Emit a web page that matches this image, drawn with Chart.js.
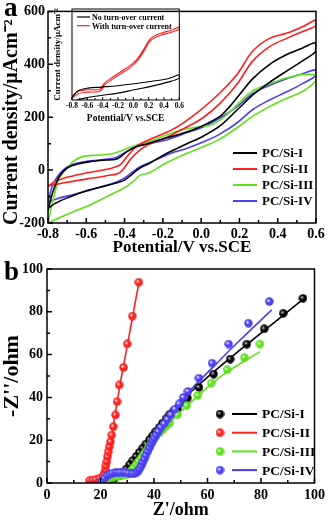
<!DOCTYPE html>
<html>
<head>
<meta charset="utf-8">
<script src="https://cdn.jsdelivr.net/npm/chart.js@4.4.1/dist/chart.umd.min.js"></script>
<style>
  html, body { margin: 0; padding: 0; background: #fff; }
  #wrap { position: relative; width: 329px; height: 521px; overflow: hidden; }
  .box { position: absolute; }
  .tag { position: absolute; font: bold 27px "Liberation Serif", serif; line-height: 1; }
</style>
</head>
<body>
<div id="wrap">
  <div class="box" style="left:0;top:0;width:329px;height:258px"><canvas id="cvA"></canvas></div>
  <div class="box" style="left:0;top:255px;width:329px;height:266px"><canvas id="cvB"></canvas></div>
  <div class="box" style="left:52px;top:0;width:134px;height:124px"><canvas id="cvIn"></canvas></div>
  <div class="tag" style="left:4px;top:-6px">a</div>
  <div class="tag" style="left:4px;top:258px">b</div>
</div>
<script>
const F = '"Liberation Serif", "Times New Roman", serif';

const names = ['PC/Si-I', 'PC/Si-II', 'PC/Si-III', 'PC/Si-IV'];
const colors = ['#000000', '#ff1f1f', '#5ee11e', '#4c3ff2'];

// ---- panel a: CV loops (V vs SCE, uA/cm2), forward scan then return ----
const cvX1 = [-0.8,-0.78,-0.76,-0.74,-0.7,-0.65,-0.58,-0.5,-0.45,-0.42,-0.39,-0.34,-0.28,-0.18,-0.1,0.0,0.1,0.15,0.2,0.27,0.36,0.45,0.53,0.6,
              0.6,0.53,0.45,0.36,0.27,0.19,0.1,0.0,-0.08,-0.16,-0.2,-0.27,-0.32,-0.36,-0.4,-0.45,-0.5,-0.6,-0.7,-0.76,-0.8];
const cvY1 = [-155,-95,-54,-23,8,22,32,38,40,51,69,88,100,122,138,165,204,241,285,346,401,438,462,481,
              450,413,376,333,284,229,168,124,98,70,55,26,8,-15,-38,-50,-60,-78,-105,-125,-145];

const cvX2 = [-0.8,-0.755,-0.67,-0.58,-0.49,-0.45,-0.42,-0.38,-0.34,-0.28,-0.18,-0.11,-0.02,0.06,0.13,0.19,0.27,0.36,0.45,0.53,0.6,
              0.6,0.53,0.45,0.36,0.27,0.19,0.1,0.01,-0.08,-0.16,-0.2,-0.28,-0.33,-0.37,-0.4,-0.43,-0.5,-0.6,-0.7,-0.8];
const cvY2 = [-60,-40,-22,-8,3,12,22,57,88,112,143,170,217,266,315,364,450,499,518,542,567,
              546,524,499,468,413,327,253,198,161,131,118,95,70,40,10,-12,-22,-34,-46,-60];

const cvX3 = [-0.8,-0.77,-0.74,-0.7,-0.67,-0.62,-0.53,-0.46,-0.41,-0.34,-0.27,-0.2,-0.1,0.0,0.05,0.1,0.15,0.2,0.27,0.36,0.45,0.53,0.6,
              0.6,0.53,0.45,0.36,0.27,0.19,0.1,0.01,-0.1,-0.2,-0.27,-0.32,-0.35,-0.39,-0.45,-0.5,-0.58,-0.67,-0.75,-0.8];
const cvY3 = [-200,-103,-29,8,32,51,57,63,75,94,108,128,152,165,170,190,220,255,300,327,349,361,358,
              339,297,272,241,204,161,118,88,55,20,-10,-20,-40,-62,-85,-103,-132,-158,-183,-200];

const cvX4 = [-0.8,-0.78,-0.755,-0.72,-0.67,-0.58,-0.5,-0.45,-0.39,-0.34,-0.27,-0.18,-0.1,0.0,0.1,0.19,0.27,0.36,0.45,0.53,0.6,
              0.6,0.53,0.45,0.36,0.27,0.19,0.1,0.01,-0.08,-0.16,-0.2,-0.27,-0.32,-0.36,-0.4,-0.45,-0.5,-0.6,-0.7,-0.76,-0.8];
const cvY4 = [-121,-66,-29,1,22,35,41,47,69,88,100,114,135,160,198,241,290,321,346,364,379,
              358,327,297,266,229,180,137,106,81,63,50,28,12,-8,-30,-48,-58,-80,-98,-110,-121];

// ---- inset: with / without turn-over current ----
const inNames = ['No turn-over current', 'With turn-over current'];
const inX_no = [-0.8,-0.72,-0.59,-0.42,-0.2,0.01,0.23,0.45,0.6, 0.6,0.45,0.23,0.01,-0.2,-0.42,-0.63,-0.8];
const inY_no = [-62,-3,21,30,42,60,80,104,140, 110,74,36,6,-24,-45,-68,-98];
const inX_with = [-0.8,-0.72,-0.59,-0.46,-0.42,-0.375,-0.29,-0.16,-0.03,0.06,0.145,0.23,0.36,0.49,0.6,
                  0.6,0.49,0.36,0.23,0.145,0.06,-0.03,-0.16,-0.29,-0.375,-0.42,-0.46,-0.59,-0.72,-0.8];
const inY_with = [-53,-8,6,6,21,66,110,169,228,288,377,466,510,534,564,
                  546,516,492,448,359,270,210,151,92,48,3,-12,-15,-30,-70];

// ---- panel b: Nyquist, measured points (Z', -Z'') ----
const zr1 = [20.4,22.2,23.5,25.3,26.8,28.4,29.6,30.9,32.1,33.3,34.5,35.8,37,38.3,39.5,40.7,42,43.2,44.5,45.7,47.2,48.8,50.6,52.5,56.8,62.3,68.5,74.7,81.2,88.3,95.7];
const zi1 = [0.3,1.1,1.6,2.3,3.3,4.7,6.5,8.6,10.5,12.4,14.3,16.3,18.2,20.2,22.1,24.1,26,28,30,31.9,33.5,35,37.4,39.7,44.6,50.9,57.9,64.9,72,79.3,86.3];
const zr2 = [15.9,17.1,18.3,19.6,20.8,21.4,21.8,22,22.4,22.6,22.9,23.3,23.7,24.2,24.8,25.6,26.2,27,28.6,30,31.9,34.3];
const zi2 = [1.1,1.4,1.7,2.2,3,4.5,6.1,8,10,12.3,14.6,17,19.3,22.4,26.3,31.8,38,45.8,54,65,78,93.8];
const zr3 = [20.4,21.6,23,24.7,26.5,28.4,30,31.5,32.4,33.3,34.2,35.2,36.1,37,37.9,38.9,39.8,40.7,42,43.2,44.5,45.9,48.8,52.2,56.4,61.4,67.3,73.8,79.6];
const zi3 = [0.3,1.4,2,2.6,3.1,3.5,4.2,5.8,7.2,8.6,10.1,11.7,13.2,14.8,16.7,18.7,20.2,21.8,23.4,24.9,26.5,28,31.9,36.2,40.9,46.7,52.9,58.6,64.9];
const zr4 = [20.4,21.6,22.5,23.5,24.5,25.5,26.5,27.5,28.5,29.5,30.5,31.5,32.5,33.3,34,34.6,35.2,35.8,36.4,37,37.7,38.3,38.9,39.5,40.1,40.8,41.6,42.6,43.8,45,46.3,47.8,49.4,51,52.7,56.8,61.7,67.9,75.3,83.1];
const zi4 = [0.8,2.3,3.5,4.2,4.6,4.8,4.9,4.9,4.9,4.8,4.6,4.4,4.3,4.7,5.5,6.5,8,9.6,11.2,13,14.8,16.5,18.2,19.7,21,22.5,24.1,26,27.7,29.8,31.9,34.5,37,40,42.8,49,56,64.9,74.7,84.8];

// ---- panel b: fitted curves ----
const fr1 = [21,25.9,29.6,34.6,42,50,56.8,69.1,81.5,95.3];
const fi1 = [0,2.3,6.2,14,25.7,38,45.9,59,71.5,85.5];
const fr2 = [20.3,21.2,22,23,24,27.3,30.2,34.4];
const fi2 = [0,3,7,14,21,46,65.5,94];
const fr3 = [21,25.9,30.9,35.8,40.7,48.1,56.8,66.7,79.6];
const fi3 = [0,2,5.4,13.2,21,31.1,41.2,51.3,61.4];
const fr4 = [20.4,22.2,24.7,29.6,33.3,35.8,38.3,42,46.9,53.1,61.7,71.6,84];
const fi4 = [0,3.9,5.4,5.4,5.4,8.6,15.6,24.1,33.4,42.8,53.7,66.1,80.9];

const pts = (xs, ys) => xs.map((x, i) => ({ x: x, y: ys[i] }));

function sphere(color) {
  const c = document.createElement('canvas');
  c.width = c.height = 9;
  const g = c.getContext('2d');
  const grad = g.createRadialGradient(3.2, 3.2, 0.2, 4.5, 4.5, 4.3);
  grad.addColorStop(0, color === '#000000' ? '#d8d8d8' : '#ffffff');
  grad.addColorStop(0.45, color);
  grad.addColorStop(1, color);
  g.fillStyle = grad;
  g.beginPath();
  g.arc(4.5, 4.5, 4.2, 0, Math.PI * 2);
  g.fill();
  return c;
}
const dots = colors.map(sphere);

// box frame + inward ticks (major at labels, minor halfway)
const frameTicks = {
  id: 'frameTicks',
  afterDatasetsDraw(chart, args, o) {
    const ctx = chart.ctx, a = chart.chartArea;
    const xs = chart.scales.x, ys = chart.scales.y;
    ctx.save();
    ctx.strokeStyle = '#000';
    ctx.lineWidth = o.width;
    ctx.strokeRect(a.left, a.top, a.right - a.left, a.bottom - a.top);
    ctx.beginPath();
    const xp = xs.ticks.map(t => xs.getPixelForValue(t.value));
    const yp = ys.ticks.map(t => ys.getPixelForValue(t.value));
    xp.forEach((p, i) => {
      ctx.moveTo(p, a.bottom); ctx.lineTo(p, a.bottom - o.major);
      if (i < xp.length - 1) {
        const m = (p + xp[i + 1]) / 2;
        ctx.moveTo(m, a.bottom); ctx.lineTo(m, a.bottom - o.minor);
      }
    });
    yp.forEach((p, i) => {
      ctx.moveTo(a.left, p); ctx.lineTo(a.left + o.major, p);
      if (i < yp.length - 1) {
        const m = (p + yp[i + 1]) / 2;
        ctx.moveTo(a.left, m); ctx.lineTo(a.left + o.minor, m);
      }
    });
    ctx.stroke();
    ctx.restore();
  }
};

function makeKey(k) {
  return {
    id: 'key',
    afterDraw(chart) {
      const ctx = chart.ctx;
      ctx.save();
      ctx.font = 'bold ' + k.size + 'px ' + F;
      ctx.textBaseline = 'middle';
      ctx.fillStyle = '#000';
      k.labels.forEach((lab, i) => {
        const y = k.y + i * k.dy;
        if (k.dots) ctx.drawImage(k.dots[i], k.dotX - 4.5, y - 4.5);
        ctx.strokeStyle = k.colors[i];
        ctx.lineWidth = k.lw;
        ctx.beginPath(); ctx.moveTo(k.x0, y); ctx.lineTo(k.x1, y); ctx.stroke();
        ctx.fillText(lab, k.tx, y + 1);
      });
      ctx.restore();
    }
  };
}

const fmt1 = v => (Math.abs(v) < 1e-9 ? 0 : v).toFixed(1);

function axis(o) {
  return {
    type: 'linear', min: o.min, max: o.max,
    grid: { display: false, drawTicks: false },
    border: { display: false },
    afterBuildTicks: s => { s.ticks = s.ticks.filter(t => Math.abs(t.value / o.step - Math.round(t.value / o.step)) < 1e-6); },
    ticks: { stepSize: o.step, padding: o.pad, color: '#000', autoSkip: false, maxRotation: 0,
             font: { family: F, weight: 'bold', size: o.tick }, callback: o.fmt || (v => v) },
    title: { display: true, text: o.title, color: '#000', padding: 0,
             font: { family: F, weight: 'bold', size: o.tsize, lineHeight: 1.15 } },
    afterFit: o.fit
  };
}

const cvX = [cvX1, cvX2, cvX3, cvX4];
const cvY = [cvY1, cvY2, cvY3, cvY4];

new Chart(document.getElementById('cvA'), {
  type: 'scatter',
  data: {
    datasets: names.map((n, i) => ({
      label: n, data: pts(cvX[i], cvY[i]), showLine: true,
      borderColor: colors[i], borderWidth: 1.6, pointRadius: 0, tension: 0.35
    }))
  },
  options: {
    responsive: true, maintainAspectRatio: false, animation: false,
    layout: { padding: { top: 6, right: 13, left: 0, bottom: 1 } },
    plugins: { legend: { display: false }, tooltip: { enabled: false },
               frameTicks: { width: 1.5, major: 5, minor: 3 } },
    scales: {
      x: axis({ min: -0.8, max: 0.6, step: 0.2, pad: 3, tick: 14, fmt: fmt1,
                title: 'Potential/V vs.SCE', tsize: 17, fit: s => { s.height = 34; } }),
      // trailing en space nudges the rotated title down, clear of the panel letter
      y: axis({ min: -200, max: 600, step: 200, pad: 3, tick: 14,
                title: 'Current density/\u03bcAcm\u207b\u00b2\u2002', tsize: 20, fit: s => { s.width = 48; } })
    }
  },
  plugins: [frameTicks, makeKey({ labels: names, colors: colors, size: 13, y: 153, dy: 16, x0: 233, x1: 257, tx: 262, lw: 2 })]
});

new Chart(document.getElementById('cvIn'), {
  type: 'scatter',
  data: {
    datasets: [
      { label: inNames[0], data: pts(inX_no, inY_no), showLine: true, borderColor: '#000', borderWidth: 1.1, pointRadius: 0, tension: 0.35 },
      { label: inNames[1], data: pts(inX_with, inY_with), showLine: true, borderColor: '#ff1f1f', borderWidth: 1.1, pointRadius: 0, tension: 0.35 }
    ]
  },
  options: {
    responsive: true, maintainAspectRatio: false, animation: false,
    layout: { padding: { top: 9, right: 4, left: 0, bottom: 0 } },
    plugins: { legend: { display: false }, tooltip: { enabled: false },
               frameTicks: { width: 1, major: 3, minor: 2 } },
    scales: {
      x: axis({ min: -0.8, max: 0.6, step: 0.2, pad: 2, tick: 7.5, fmt: fmt1,
                title: 'Potential/V vs.SCE', tsize: 9.5, fit: s => { s.height = 24; } }),
      y: axis({ min: -85, max: 725, step: 200, pad: 2, tick: 7.5,
                title: 'Current density/\u03bcAcm\u207b\u00b2', tsize: 9, fit: s => { s.width = 20; } })
    }
  },
  plugins: [frameTicks, makeKey({ labels: inNames, colors: ['#000', '#ff1f1f'], size: 8, y: 17, dy: 8.7, x0: 25, x1: 38, tx: 40, lw: 1.2 })]
});

const zr = [zr1, zr2, zr3, zr4], zi = [zi1, zi2, zi3, zi4];
const fr = [fr1, fr2, fr3, fr4], fi = [fi1, fi2, fi3, fi4];
const bSets = [];
[3, 2, 0, 1].forEach(i => {
  bSets.push({ label: names[i], data: pts(zr[i], zi[i]), showLine: false,
               pointStyle: dots[i], pointRadius: 4, borderColor: colors[i], backgroundColor: colors[i] });
});
[3, 2, 0, 1].forEach(i => {
  bSets.push({ label: names[i] + ' fit', data: pts(fr[i], fi[i]), showLine: true,
               borderColor: colors[i], borderWidth: 1.6, pointRadius: 0, tension: 0.3 });
});

new Chart(document.getElementById('cvB'), {
  type: 'scatter',
  data: { datasets: bSets },
  options: {
    responsive: true, maintainAspectRatio: false, animation: false,
    layout: { padding: { top: 14, right: 12, left: 0, bottom: 0 } },
    plugins: { legend: { display: false }, tooltip: { enabled: false },
               frameTicks: { width: 1.5, major: 5, minor: 3 } },
    scales: {
      x: axis({ min: 0, max: 100, step: 20, pad: 4, tick: 14,
                title: "Z'/ohm", tsize: 18, fit: s => { s.height = 38; } }),
      y: axis({ min: 0, max: 100, step: 20, pad: 4, tick: 14,
                title: "-Z''/ohm", tsize: 22, fit: s => { s.width = 47; } })
    }
  },
  plugins: [frameTicks, makeKey({ labels: names, colors: colors, dots: dots, dotX: 220, size: 13.5, y: 159, dy: 18.7, x0: 232, x1: 257, tx: 262, lw: 2 })]
});
</script>
</body>
</html>
